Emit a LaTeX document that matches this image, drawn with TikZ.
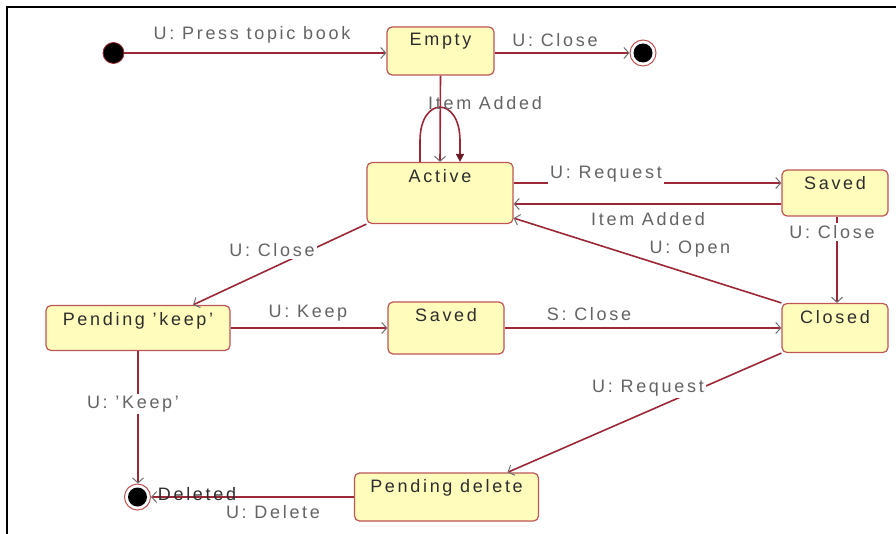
\documentclass[tikz,border=0pt]{standalone}
\usepackage{fontspec}
\setmainfont{Liberation Sans}[LetterSpace=15]
\usetikzlibrary{arrows.meta}

\definecolor{statefill}{RGB}{255,252,188}
\definecolor{stateline}{RGB}{190,85,85}
\definecolor{wire}{RGB}{155,40,55}
\definecolor{tipgray}{RGB}{110,110,110}
\definecolor{lbltext}{RGB}{100,100,100}
\definecolor{nametext}{RGB}{45,45,45}

\begin{document}
\begin{tikzpicture}[x=1pt,y=-1pt,
  every node/.style={font=\fontsize{18}{21}\selectfont},
  state/.style={draw=stateline, line width=1.2pt, fill=statefill,
    rounded corners=5pt, inner sep=0pt},
  statename/.style={text=nametext, anchor=north, inner sep=0pt, yshift=-7pt},
  initstate/.style={circle, fill=black, draw=wire, line width=0.8pt,
    minimum size=21pt, inner sep=0pt},
  finalstate/.style={circle, draw=stateline, line width=1pt, fill=white,
    minimum size=26pt, inner sep=0pt,
    path picture={\fill[black] (path picture bounding box.center) circle (9.5pt);}},
  conn/.style={draw=wire, line width=1.6pt,
    -{Straight Barb[length=5pt,width=11pt,color=tipgray,line width=1pt]}},
  loopconn/.style={draw=wire, line width=1.6pt,
    -{Triangle[length=8pt,width=8pt,color=wire!70!black]}},
  lbl/.style={text=lbltext, fill=white, inner sep=2pt},
]
\useasboundingbox (0,0) rectangle (896,534);

% frame
\draw[line width=2pt] (7,534) -- (7,7) -- (896,7);

% states
\node[initstate] (init) at (113.5,53) {};
\node[state, minimum width=107pt, minimum height=48pt,
  label={[statename]north:Empty}] (empty) at (440.5,51) {};
\node[finalstate] (fin1) at (643,53) {};
\node[state, minimum width=146pt, minimum height=61pt,
  label={[statename]north:Active}] (active) at (440,193) {};
\node[state, minimum width=106pt, minimum height=46pt,
  label={[statename]north:Saved}] (savedR) at (835,193) {};
\node[state, minimum width=106pt, minimum height=49pt,
  label={[statename]north:Closed}] (closed) at (835,328) {};
\node[state, minimum width=184pt, minimum height=45pt,
  label={[statename]north:Pending 'keep'}] (pkeep) at (138,328) {};
\node[state, minimum width=116pt, minimum height=52pt,
  label={[statename]north:Saved}] (savedM) at (446,328) {};
\node[state, minimum width=184pt, minimum height=48pt,
  label={[statename]north:Pending delete}] (pdel) at (446.5,497) {};
\node[finalstate] (fin2) at (137.5,497) {};

% transitions
\draw[conn] (init) -- (init -| empty.west);
\draw[conn] (empty.east |- fin1) -- (fin1);
\draw[conn] (empty.south) -- (active.north);
\draw[loopconn] ([xshift=-20pt]active.north) -- ++(0,-21)
  .. controls +(0,-45) and +(0,-45) .. ++(40,0) -- ++(0,21);
\draw[conn] ([yshift=10pt]active.east) -- ([yshift=10pt]savedR.west);
\draw[conn] ([yshift=-11pt]savedR.west) -- ([yshift=-11pt]active.east);
\draw[conn] ([xshift=2pt]savedR.south) -- ([xshift=2pt]closed.north);
\draw[conn] (closed.north west) -- ([yshift=6pt]active.south east);
\draw[conn] (active.south west) -- ([xshift=55pt]pkeep.north);
\draw[conn] (pkeep.east) -- (savedM.west);
\draw[conn] (savedM.east) -- (closed.west);
\draw[conn] (closed.south west) -- ([xshift=61pt]pdel.north);
\draw[conn] (pkeep.south) -- (pkeep.south |- fin2.north);
\draw[conn] (pdel.west) -- (fin2.east);

% transition labels
\node[lbl] (lPress) at (252,35) {U: Press topic book};
\node[lbl] (lClose1) at (555,40) {U: Close};
\node[lbl, fill=none] (lAdded1) at (485,103) {Item Added};
\node[lbl, inner ysep=3pt] (lRequest1) at (606,174) {U: Request};
\node[lbl] (lAdded2) at (648,219) {Item Added};
\node[lbl] (lClose2) at (832,232) {U: Close};
\node[lbl] (lOpen) at (690,249) {U: Open};
\node[lbl] (lClose3) at (272,250) {U: Close};
\node[lbl] (lKeep) at (308,313) {U: Keep};
\node[lbl] (lSClose) at (589,314) {S: Close};
\node[lbl] (lRequest2) at (648,388) {U: Request};
\node[lbl] (lKeep2) at (133,404) {U: 'Keep'};
\node[lbl] (lDelete) at (273,512) {U: Delete};
\node[text=nametext, inner sep=0pt] (lDeleted) at (197,494) {Deleted};
\end{tikzpicture}
\end{document}
